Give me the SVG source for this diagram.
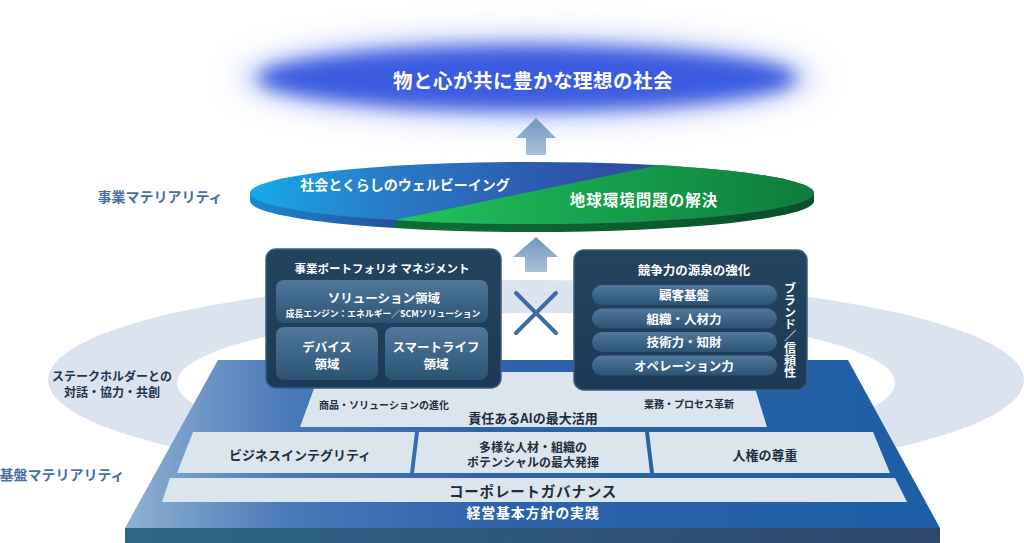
<svg xmlns="http://www.w3.org/2000/svg" width="1024" height="543" viewBox="0 0 1024 543">
<defs>
<style>
.t{font-family:"Noto Sans CJK JP","Noto Sans",sans-serif;font-weight:700;text-anchor:middle}
.w{fill:#ffffff}
.d{fill:#1f2d3d}
.lab{fill:#4a6ea8}
.tier{fill:#dbe5ee}
.box{fill:url(#boxG);stroke:#3b5d7d;stroke-width:1.5}
.inner{fill:url(#innerG)}
.pill{fill:url(#innerG)}
.arrow{fill:url(#arrowG)}
.vert{writing-mode:vertical-rl;text-anchor:start}
</style>
<filter id="blur1" x="-20%" y="-80%" width="140%" height="260%"><feGaussianBlur stdDeviation="9"/></filter>
<filter id="blur2" x="-20%" y="-80%" width="140%" height="260%"><feGaussianBlur stdDeviation="14"/></filter>
<linearGradient id="arrowG" x1="0" y1="0" x2="0" y2="1"><stop offset="0" stop-color="#6f97bf"/><stop offset="1" stop-color="#a9c1d8"/></linearGradient>
<linearGradient id="rimG" gradientUnits="userSpaceOnUse" x1="250" y1="0" x2="814" y2="0">
<stop offset="0" stop-color="#1a8ad0"/><stop offset="0.257" stop-color="#27509a"/><stop offset="0.257" stop-color="#0f6e36"/><stop offset="1" stop-color="#0a4f28"/></linearGradient>
<linearGradient id="blueTop" gradientUnits="userSpaceOnUse" x1="250" y1="0" x2="720" y2="0">
<stop offset="0" stop-color="#14aaea"/><stop offset="0.3" stop-color="#2a7ac6"/><stop offset="0.65" stop-color="#2c58ac"/><stop offset="1" stop-color="#2f44a0"/></linearGradient>
<linearGradient id="greenTop" gradientUnits="userSpaceOnUse" x1="395" y1="0" x2="814" y2="0">
<stop offset="0" stop-color="#22c45c"/><stop offset="0.5" stop-color="#16a04b"/><stop offset="1" stop-color="#0d7d3b"/></linearGradient>
<clipPath id="discClip"><ellipse cx="532" cy="193" rx="282" ry="31"/></clipPath>
<linearGradient id="boxG" x1="0" y1="0" x2="0" y2="1"><stop offset="0" stop-color="#23445f"/><stop offset="1" stop-color="#1c3a57"/></linearGradient>
<linearGradient id="innerG" x1="0" y1="0" x2="0" y2="1"><stop offset="0" stop-color="#4f789c"/><stop offset="1" stop-color="#2c5374"/></linearGradient>
<linearGradient id="platG" gradientUnits="userSpaceOnUse" x1="125" y1="0" x2="940" y2="0">
<stop offset="0" stop-color="#8fb1d2"/><stop offset="0.2" stop-color="#4a79b8"/><stop offset="0.45" stop-color="#2f63aa"/><stop offset="1" stop-color="#1d5ea4"/></linearGradient>
<linearGradient id="frontG" x1="0" y1="0" x2="1" y2="0"><stop offset="0" stop-color="#2d6787"/><stop offset="1" stop-color="#30466a"/></linearGradient>
</defs>
<rect width="1024" height="543" fill="#ffffff"/>

<g id="ring">
<path d="M48,380 a488,100 0 1,0 976,0 a488,100 0 1,0 -976,0 Z M177,383 a359,70 0 1,0 718,0 a359,70 0 1,0 -718,0 Z" fill="#dae3ee" fill-rule="evenodd"/>
</g>

<g id="labels">
<text class="t lab" x="160" y="202" font-size="14">事業マテリアリティ</text>
<text class="t" x="112" y="380.5" font-size="12" fill="#1e3550">ステークホルダーとの</text>
<text class="t" x="112" y="397" font-size="12" fill="#1e3550">対話・協力・共創</text>
<text class="t lab" x="62" y="480" font-size="14">基盤マテリアリティ</text>
</g>

<g id="goal">
<ellipse cx="527" cy="78" rx="292" ry="48" fill="#c9d3f8" opacity="0.7" filter="url(#blur2)"/>
<ellipse cx="527" cy="78" rx="270" ry="33" fill="#3b5be0" filter="url(#blur1)"/>
<text class="t w" x="533" y="88" font-size="19.5" letter-spacing="0.5">物と心が共に豊かな理想の社会</text>
</g>

<g id="platform">
<polygon points="218,360 848,360 940,528 125,528" fill="url(#platG)"/>
<rect x="125" y="528" width="815" height="15" fill="url(#frontG)"/>
<polygon class="tier" points="320,372 750,372 767,427 300,427"/>
<polygon class="tier" points="193,432 415,432 410,473 177,473"/>
<polygon class="tier" points="419,432 645,432 650,473 414,473"/>
<polygon class="tier" points="649,432 873,432 890,473 654,473"/>
<polygon class="tier" points="170,478 895,478 907,502 162,502"/>
<text class="t d" x="384" y="409" font-size="10">商品・ソリューションの進化</text>
<text class="t d" x="689" y="408" font-size="10">業務・プロセス革新</text>
<text class="t d" x="533" y="423" font-size="13">責任あるAIの最大活用</text>
<text class="t d" x="300" y="460" font-size="13">ビジネスインテグリティ</text>
<text class="t d" x="533" y="451.5" font-size="12">多様な人材・組織の</text>
<text class="t d" x="533" y="467" font-size="12">ポテンシャルの最大発揮</text>
<text class="t d" x="765" y="460" font-size="13">人権の尊重</text>
<text class="t d" x="533" y="497" font-size="14.5" letter-spacing="0.8">コーポレートガバナンス</text>
<text class="t w" x="533" y="518" font-size="14" letter-spacing="0.8">経営基本方針の実践</text>
</g>

<g id="disc">
<ellipse cx="532" cy="201" rx="282" ry="31" fill="url(#rimG)"/>
<rect x="250" y="193" width="564" height="8" fill="url(#rimG)"/>
<g clip-path="url(#discClip)">
<rect x="250" y="160" width="564" height="70" fill="url(#blueTop)"/>
<polygon points="395,260 395,220 780,140 830,140 830,260" fill="url(#greenTop)"/>
</g>
<text class="t w" x="405" y="190" font-size="14">社会とくらしのウェルビーイング</text>
<text class="t w" x="644" y="206" font-size="15.5" letter-spacing="1">地球環境問題の解決</text>
</g>

<g id="connectors">
<polygon class="arrow" points="536,118 556,138 546,138 546,155 526,155 526,138 516,138"/>
<polygon class="arrow" points="536,237 558,257 547,257 547,272 525,272 525,257 513,257"/>
<g stroke="#3f6aa6" stroke-width="4" stroke-linecap="round">
<line x1="516" y1="293" x2="556" y2="333"/>
<line x1="556" y1="293" x2="516" y2="333"/>
</g>
</g>

<g id="portfolio">
<rect class="box" x="266" y="249" width="235" height="139" rx="10"/>
<text class="t w" x="382" y="273" font-size="11.5">事業ポートフォリオ マネジメント</text>
<rect class="inner" x="276" y="280" width="212" height="43" rx="8"/>
<text class="t w" x="384" y="303" font-size="12.5">ソリューション領域</text>
<text class="t w" x="383" y="317" font-size="8.8">成長エンジン：エネルギー／SCMソリューション</text>
<rect class="inner" x="276" y="327" width="102" height="53" rx="8"/>
<text class="t w" x="327" y="351.5" font-size="12.5">デバイス</text>
<text class="t w" x="327" y="368.5" font-size="12.5">領域</text>
<rect class="inner" x="385" y="327" width="103" height="53" rx="8"/>
<text class="t w" x="436" y="351.5" font-size="12.5">スマートライフ</text>
<text class="t w" x="436" y="368.5" font-size="12.5">領域</text>
</g>

<g id="competitiveness">
<rect class="box" x="574" y="250" width="233" height="140" rx="10"/>
<text class="t w" x="694" y="275" font-size="12.5">競争力の源泉の強化</text>
<rect class="pill" x="592" y="285" width="185" height="20" rx="10"/>
<text class="t w" x="684" y="300" font-size="12.5">顧客基盤</text>
<rect class="pill" x="592" y="308.5" width="185" height="20" rx="10"/>
<text class="t w" x="684" y="323.5" font-size="12.5">組織・人材力</text>
<rect class="pill" x="592" y="332" width="185" height="20" rx="10"/>
<text class="t w" x="684" y="347" font-size="12.5">技術力・知財</text>
<rect class="pill" x="592" y="355.5" width="185" height="20" rx="10"/>
<text class="t w" x="684" y="370.5" font-size="12.5">オペレーション力</text>
<text class="t w vert" x="790" y="282" font-size="12">ブランド／信頼性</text>
</g>
</svg>
